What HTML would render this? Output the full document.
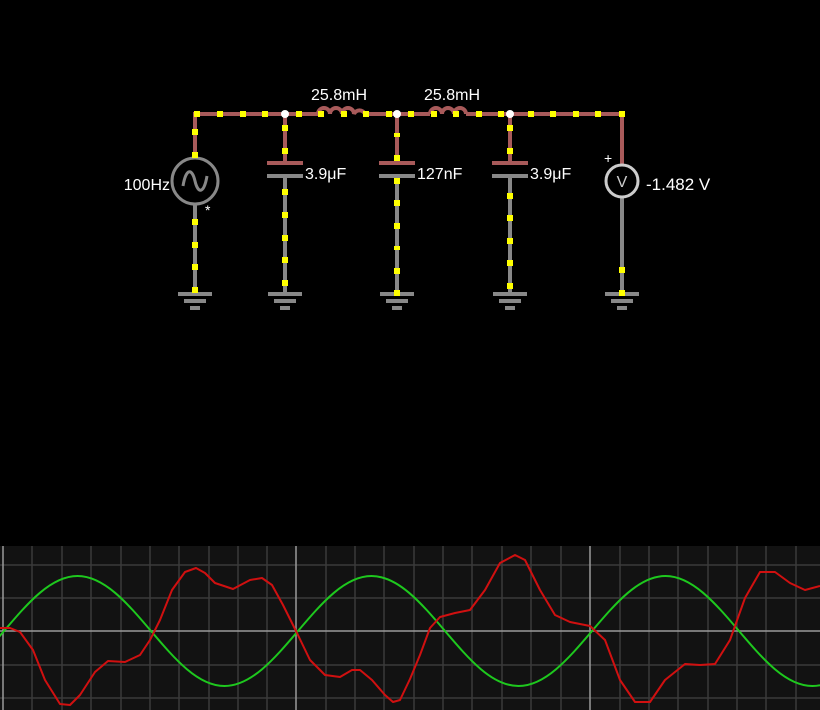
<!DOCTYPE html>
<html><head><meta charset="utf-8"><style>
html,body{margin:0;padding:0;background:#000;width:820px;height:710px;overflow:hidden}
svg{display:block}
text{font-family:"Liberation Sans",sans-serif;fill:#fff}
</style></head><body>
<svg width="820" height="710" viewBox="0 0 820 710">
<g fill="none" stroke-width="4">
<g stroke="#a85a5a">
<path d="M195 158 V114 H318 M365 114 H430 M466 114 H622 V165"/>
<path d="M285 114 V163 M397 114 V163 M510 114 V163"/>
<path d="M318 114 a6 6 0 0 1 12 0 a6 6 0 0 1 12 0 a6 6 0 0 1 12 0 a6 6 0 0 1 11 0" />
<path d="M430 114 a6 6 0 0 1 12 0 a6 6 0 0 1 12 0 a6 6 0 0 1 12 0"/>
<path d="M267 163 H303 M379 163 H415 M492 163 H528"/>
</g>
<g stroke="#888">
<path d="M195 204 V294 M285 176 V294 M397 176 V294 M510 176 V294 M622 197 V294"/>
<path d="M267 176 H303 M379 176 H415 M492 176 H528"/>
</g>
<g stroke="#888" stroke-width="3">
<circle cx="195" cy="181" r="23"/>
<path d="M183 186 C186 168 192 168 195 181 C198 194 204 194 207 176"/>
</g>
<circle cx="622" cy="181" r="16" stroke="#ccc" stroke-width="3"/>
</g>
<g fill="#888">
<g id="gnd"><rect x="178" y="292" width="34" height="4"/><rect x="184" y="299" width="22" height="4"/><rect x="190" y="306" width="10" height="4"/></g>
<use href="#gnd" x="90"/><use href="#gnd" x="202"/><use href="#gnd" x="315"/><use href="#gnd" x="427"/>
</g>
<g fill="#fff"><circle cx="285" cy="114" r="4"/><circle cx="397" cy="114" r="4"/><circle cx="510" cy="114" r="4"/></g>
<g fill="#ff0">
<rect x="194" y="111" width="6" height="6"/><rect x="217" y="111" width="6" height="6"/><rect x="240" y="111" width="6" height="6"/><rect x="262" y="111" width="6" height="6"/><rect x="296" y="111" width="6" height="6"/><rect x="318" y="111" width="6" height="6"/><rect x="341" y="111" width="6" height="6"/><rect x="363" y="111" width="6" height="6"/><rect x="386" y="111" width="6" height="6"/><rect x="408" y="111" width="6" height="6"/><rect x="431" y="111" width="6" height="6"/><rect x="453" y="111" width="6" height="6"/><rect x="476" y="111" width="6" height="6"/><rect x="498" y="111" width="6" height="6"/><rect x="528" y="111" width="6" height="6"/><rect x="550" y="111" width="6" height="6"/><rect x="573" y="111" width="6" height="6"/><rect x="595" y="111" width="6" height="6"/><rect x="619" y="111" width="6" height="6"/>
<rect x="192" y="129" width="6" height="6"/><rect x="192" y="152" width="6" height="6"/><rect x="192" y="219" width="6" height="6"/><rect x="192" y="242" width="6" height="6"/><rect x="192" y="264" width="6" height="6"/><rect x="192" y="287" width="6" height="6"/>
<rect x="282" y="125" width="6" height="6"/><rect x="282" y="148" width="6" height="6"/><rect x="282" y="189" width="6" height="6"/><rect x="282" y="212" width="6" height="6"/><rect x="282" y="235" width="6" height="6"/><rect x="282" y="257" width="6" height="6"/><rect x="282" y="280" width="6" height="6"/>
<rect x="394" y="133" width="6" height="4"/><rect x="394" y="155" width="6" height="6"/><rect x="394" y="178" width="6" height="6"/><rect x="394" y="200" width="6" height="6"/><rect x="394" y="223" width="6" height="6"/><rect x="394" y="246" width="6" height="4"/><rect x="394" y="268" width="6" height="6"/><rect x="394" y="290" width="6" height="6"/>
<rect x="507" y="125" width="6" height="6"/><rect x="507" y="148" width="6" height="6"/><rect x="507" y="193" width="6" height="6"/><rect x="507" y="215" width="6" height="6"/><rect x="507" y="238" width="6" height="6"/><rect x="507" y="260" width="6" height="6"/><rect x="507" y="283" width="6" height="6"/>
<rect x="619" y="267" width="6" height="6"/><rect x="619" y="290" width="6" height="6"/>
</g>
<text x="311" y="100" font-size="16">25.8mH</text>
<text x="424" y="100" font-size="16">25.8mH</text>
<text x="170" y="190" font-size="16" text-anchor="end">100Hz</text>
<text x="205" y="215" font-size="14">*</text>
<text x="305" y="179" font-size="16">3.9μF</text>
<text x="417" y="179" font-size="16">127nF</text>
<text x="530" y="179" font-size="16">3.9μF</text>
<text x="604" y="163" font-size="14">+</text>
<text x="622" y="187" font-size="16" text-anchor="middle" style="fill:#ccc">V</text>
<text x="646" y="190" font-size="17">-1.482 V</text>
<rect x="0" y="546" width="820" height="164" fill="#121212"/>
<g stroke="#3a3a3a" stroke-width="1.5">
<path d="M32 546V710M62 546V710M91 546V710M121 546V710M150 546V710M179 546V710M209 546V710M238 546V710M267 546V710M326 546V710M355 546V710M384 546V710M414 546V710M443 546V710M472 546V710M502 546V710M531 546V710M561 546V710M620 546V710M649 546V710M678 546V710M708 546V710M737 546V710M766 546V710M796 546V710"/>
<path d="M0 565H820M0 598H820M0 665H820M0 698H820"/>
</g>
<g stroke="#999" stroke-width="1.5"><path d="M3 546V710M296 546V710M590 546V710M0 631H820"/></g>
<path fill="none" stroke="#1ec81e" stroke-width="2" d="M-143 631 c24,28.2 46.9,55 73.5,55 c26.6,0 49.5,-26.8 73.5,-55 c24,-28.2 46.9,-55 73.5,-55 c26.6,0 49.5,26.8 73.5,55 c24,28.2 46.9,55 73.5,55 c26.6,0 49.5,-26.8 73.5,-55 c24,-28.2 46.9,-55 73.5,-55 c26.6,0 49.5,26.8 73.5,55 c24,28.2 46.9,55 73.5,55 c26.6,0 49.5,-26.8 73.5,-55 c24,-28.2 46.9,-55 73.5,-55 c26.6,0 49.5,26.8 73.5,55 c24,28.2 46.9,55 73.5,55 c26.6,0 49.5,-26.8 73.5,-55"/>
<polyline fill="none" stroke="#d01010" stroke-width="2" stroke-linejoin="round" points="0,628 10,628 20,632 33,650 45,680 60,704 70,705 80,695 95,672 108,661 125,662 140,655 150,640 160,620 172,590 185,572 196,568 205,573 215,583 233,589 250,580 262,578 272,585 283,605 296,631 310,660 325,675 340,677 352,670 360,670 372,680 385,695 393,702 400,700 410,679 420,655 430,628 440,617 455,613 470,610 485,590 500,563 515,555 525,560 540,590 555,615 570,622 590,626 605,640 620,680 635,702 650,702 665,680 685,664 700,665 715,664 730,640 745,598 760,572 775,572 790,583 805,590 820,586"/>
</svg>
</body></html>
